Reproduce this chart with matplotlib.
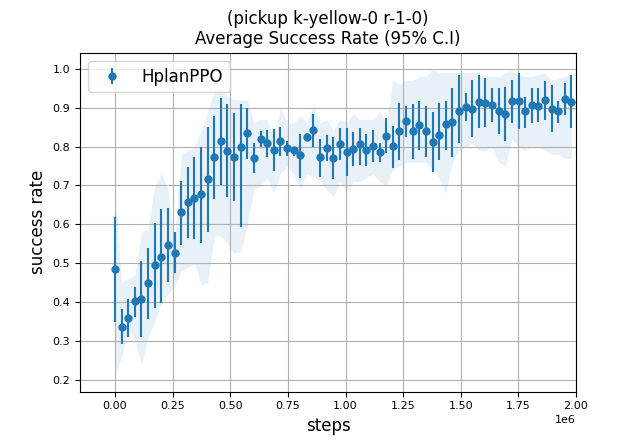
import numpy as np
import matplotlib
matplotlib.use("Agg")
import matplotlib.pyplot as plt

# evaluation every ~28.7k steps
step_size = 28700
n_points = 70

mean = [0.485, 0.335, 0.358, 0.402, 0.407, 0.449, 0.495, 0.517, 0.546, 0.527,
        0.631, 0.657, 0.668, 0.678, 0.717, 0.773, 0.813, 0.789, 0.773, 0.799,
        0.834, 0.770, 0.819, 0.809, 0.790, 0.813, 0.796, 0.791, 0.777, 0.824,
        0.843, 0.772, 0.796, 0.770, 0.807, 0.785, 0.793, 0.807, 0.790, 0.801,
        0.785, 0.826, 0.801, 0.839, 0.865, 0.839, 0.855, 0.839, 0.812, 0.829,
        0.858, 0.863, 0.891, 0.901, 0.897, 0.915, 0.911, 0.907, 0.891, 0.884,
        0.917, 0.917, 0.891, 0.907, 0.904, 0.920, 0.896, 0.891, 0.922, 0.914]

ci_hi = [0.618, 0.382, 0.409, 0.439, 0.507, 0.538, 0.603, 0.639, 0.641, 0.581,
         0.712, 0.747, 0.772, 0.800, 0.849, 0.879, 0.926, 0.909, 0.887, 0.909,
         0.900, 0.809, 0.840, 0.843, 0.844, 0.851, 0.813, 0.800, 0.832, 0.834,
         0.883, 0.819, 0.830, 0.824, 0.847, 0.847, 0.837, 0.847, 0.832, 0.843,
         0.810, 0.873, 0.854, 0.911, 0.903, 0.909, 0.918, 0.903, 0.888, 0.911,
         0.918, 0.951, 0.984, 0.937, 0.971, 0.984, 0.975, 0.951, 0.950, 0.954,
         0.971, 0.988, 0.928, 0.951, 0.951, 0.969, 0.957, 0.918, 0.963, 0.984]

ci_lo = [0.348, 0.292, 0.310, 0.361, 0.310, 0.357, 0.384, 0.397, 0.451, 0.474,
         0.547, 0.564, 0.562, 0.553, 0.580, 0.665, 0.701, 0.669, 0.661, 0.594,
         0.768, 0.731, 0.798, 0.772, 0.737, 0.776, 0.776, 0.776, 0.718, 0.813,
         0.800, 0.721, 0.764, 0.717, 0.765, 0.723, 0.750, 0.753, 0.750, 0.761,
         0.761, 0.783, 0.744, 0.765, 0.825, 0.768, 0.791, 0.774, 0.734, 0.765,
         0.791, 0.772, 0.808, 0.866, 0.824, 0.847, 0.851, 0.864, 0.832, 0.813,
         0.861, 0.844, 0.847, 0.860, 0.864, 0.867, 0.838, 0.860, 0.881, 0.847]

band_lo = [0.21, 0.26, 0.33, 0.30, 0.24, 0.31, 0.35, 0.40, 0.42, 0.44,
           0.48, 0.49, 0.50, 0.445, 0.45, 0.57, 0.57, 0.55, 0.525, 0.53,
           0.60, 0.69, 0.70, 0.72, 0.68, 0.73, 0.75, 0.73, 0.69, 0.73,
           0.72, 0.71, 0.69, 0.67, 0.71, 0.68, 0.71, 0.71, 0.72, 0.73,
           0.71, 0.70, 0.74, 0.75, 0.76, 0.76, 0.76, 0.76, 0.74, 0.72,
           0.68, 0.76, 0.79, 0.80, 0.81, 0.79, 0.79, 0.80, 0.76, 0.75,
           0.82, 0.80, 0.79, 0.80, 0.80, 0.79, 0.78, 0.78, 0.77, 0.77]

band_hi = [0.68, 0.45, 0.46, 0.47, 0.58, 0.59, 0.70, 0.73, 0.69, 0.55,
           0.78, 0.79, 0.80, 0.84, 0.89, 0.94, 0.95, 0.93, 0.92, 0.92,
           0.92, 0.86, 0.87, 0.87, 0.82, 0.90, 0.86, 0.86, 0.88, 0.86,
           0.91, 0.86, 0.87, 0.84, 0.87, 0.86, 0.885, 0.87, 0.87, 0.87,
           0.89, 0.86, 0.97, 0.96, 0.97, 0.97, 0.98, 0.98, 1.00, 0.99,
           0.99, 0.99, 0.99, 0.99, 0.99, 0.99, 0.98, 0.98, 0.98, 0.99,
           0.995, 0.985, 0.98, 0.98, 0.985, 0.99, 0.97, 0.975, 0.98, 0.985]

steps = np.arange(n_points) * step_size
mean = np.array(mean)
yerr = [mean - np.array(ci_lo), np.array(ci_hi) - mean]

fig, ax = plt.subplots(figsize=(6.4, 4.4), dpi=100)
ax.fill_between(steps, band_lo, band_hi, color='C0', alpha=0.1, linewidth=0)
ax.errorbar(steps, mean, yerr=yerr, fmt='o', color='C0', markersize=5, label='HplanPPO')

ax.set_xlim(-0.152e6, 2e6)
ax.set_ylim(0.17, 1.041)
ax.grid(True)
ax.tick_params(labelsize=8)
ax.xaxis.get_offset_text().set_fontsize(8)
ax.set_xlabel('steps', fontsize=12)
ax.set_ylabel('success rate', fontsize=12)
ax.set_title('(pickup k-yellow-0 r-1-0)\nAverage Success Rate (95% C.I)', fontsize=12)
ax.legend(loc='upper left', fontsize=12)

plt.savefig('out.png')
